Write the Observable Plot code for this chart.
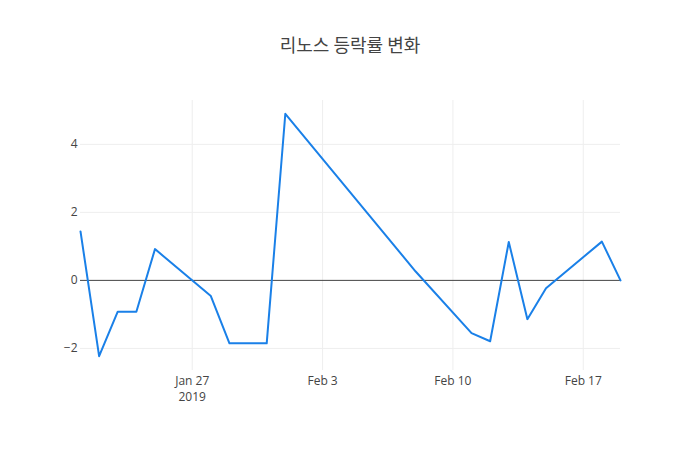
<!DOCTYPE html>
<html>
<head>
<meta charset="utf-8">
<script src="https://cdn.jsdelivr.net/npm/d3@7"></script>
<script src="https://cdn.jsdelivr.net/npm/@observablehq/plot@0.6"></script>
<style>
  html, body { margin: 0; padding: 0; background: #fff; }
  #wrap { position: relative; width: 700px; height: 450px; font-family: "Open Sans", sans-serif; }
  #title { position: absolute; top: 31px; left: 0; width: 700px; text-align: center; font-size: 18px; color: #444; font-family: "Noto Sans CJK KR", "Open Sans", sans-serif; }
</style>
</head>
<body>
<div id="wrap"><div id="title">리노스 등락률 변화</div></div>
<script>
const dates = ["2019-01-21","2019-01-22","2019-01-23","2019-01-24","2019-01-25","2019-01-28","2019-01-29","2019-01-30","2019-01-31","2019-02-01","2019-02-08","2019-02-11","2019-02-12","2019-02-13","2019-02-14","2019-02-15","2019-02-18","2019-02-19"];
const changes = [1.44, -2.23, -0.92, -0.92, 0.92, -0.46, -1.85, -1.85, -1.85, 4.90, 0.26, -1.55, -1.79, 1.13, -1.14, -0.23, 1.14, 0.0];
const xTickDates = ["2019-01-27","2019-02-03","2019-02-10","2019-02-17"];
const xTickLabels = ["Jan 27\n2019","Feb 3","Feb 10","Feb 17"];
const yTicks = [-2, 0, 2, 4];

const data = dates.map((d, i) => ({date: new Date(d + "T00:00:00Z"), value: changes[i]}));
const xt = xTickDates.map(d => new Date(d + "T00:00:00Z"));
const labelOf = new Map(xt.map((d, i) => [+d, xTickLabels[i]]));

const chart = Plot.plot({
  width: 700,
  height: 450,
  marginLeft: 80,
  marginRight: 80,
  marginTop: 100,
  marginBottom: 80,
  style: {fontFamily: "'Open Sans', sans-serif", fontSize: "12px", color: "#444", background: "transparent"},
  x: {type: "utc", domain: [data[0].date, data[data.length - 1].date]},
  y: {domain: [-2.65, 5.29]},
  marks: [
    Plot.gridX(xt, {stroke: "#eee", strokeOpacity: 1}),
    Plot.gridY(yTicks.filter(v => v !== 0), {stroke: "#eee", strokeOpacity: 1}),
    Plot.ruleY([0], {stroke: "#444", strokeWidth: 1}),
    Plot.axisX(xt, {tickSize: 0, tickPadding: 3, tickFormat: d => labelOf.get(+d), label: null, fill: "#444", fontSize: 12, lineHeight: 1.35}),
    Plot.axisY(yTicks, {tickSize: 0, tickPadding: 3, label: null, fill: "#444", fontSize: 12}),
    Plot.line(data, {x: "date", y: "value", stroke: "#1a80e8", strokeWidth: 2, strokeLinejoin: "round"})
  ]
});
document.getElementById("wrap").appendChild(chart);
chart.style.position = "absolute";
chart.style.left = "0";
chart.style.top = "0";
</script>
</body>
</html>
